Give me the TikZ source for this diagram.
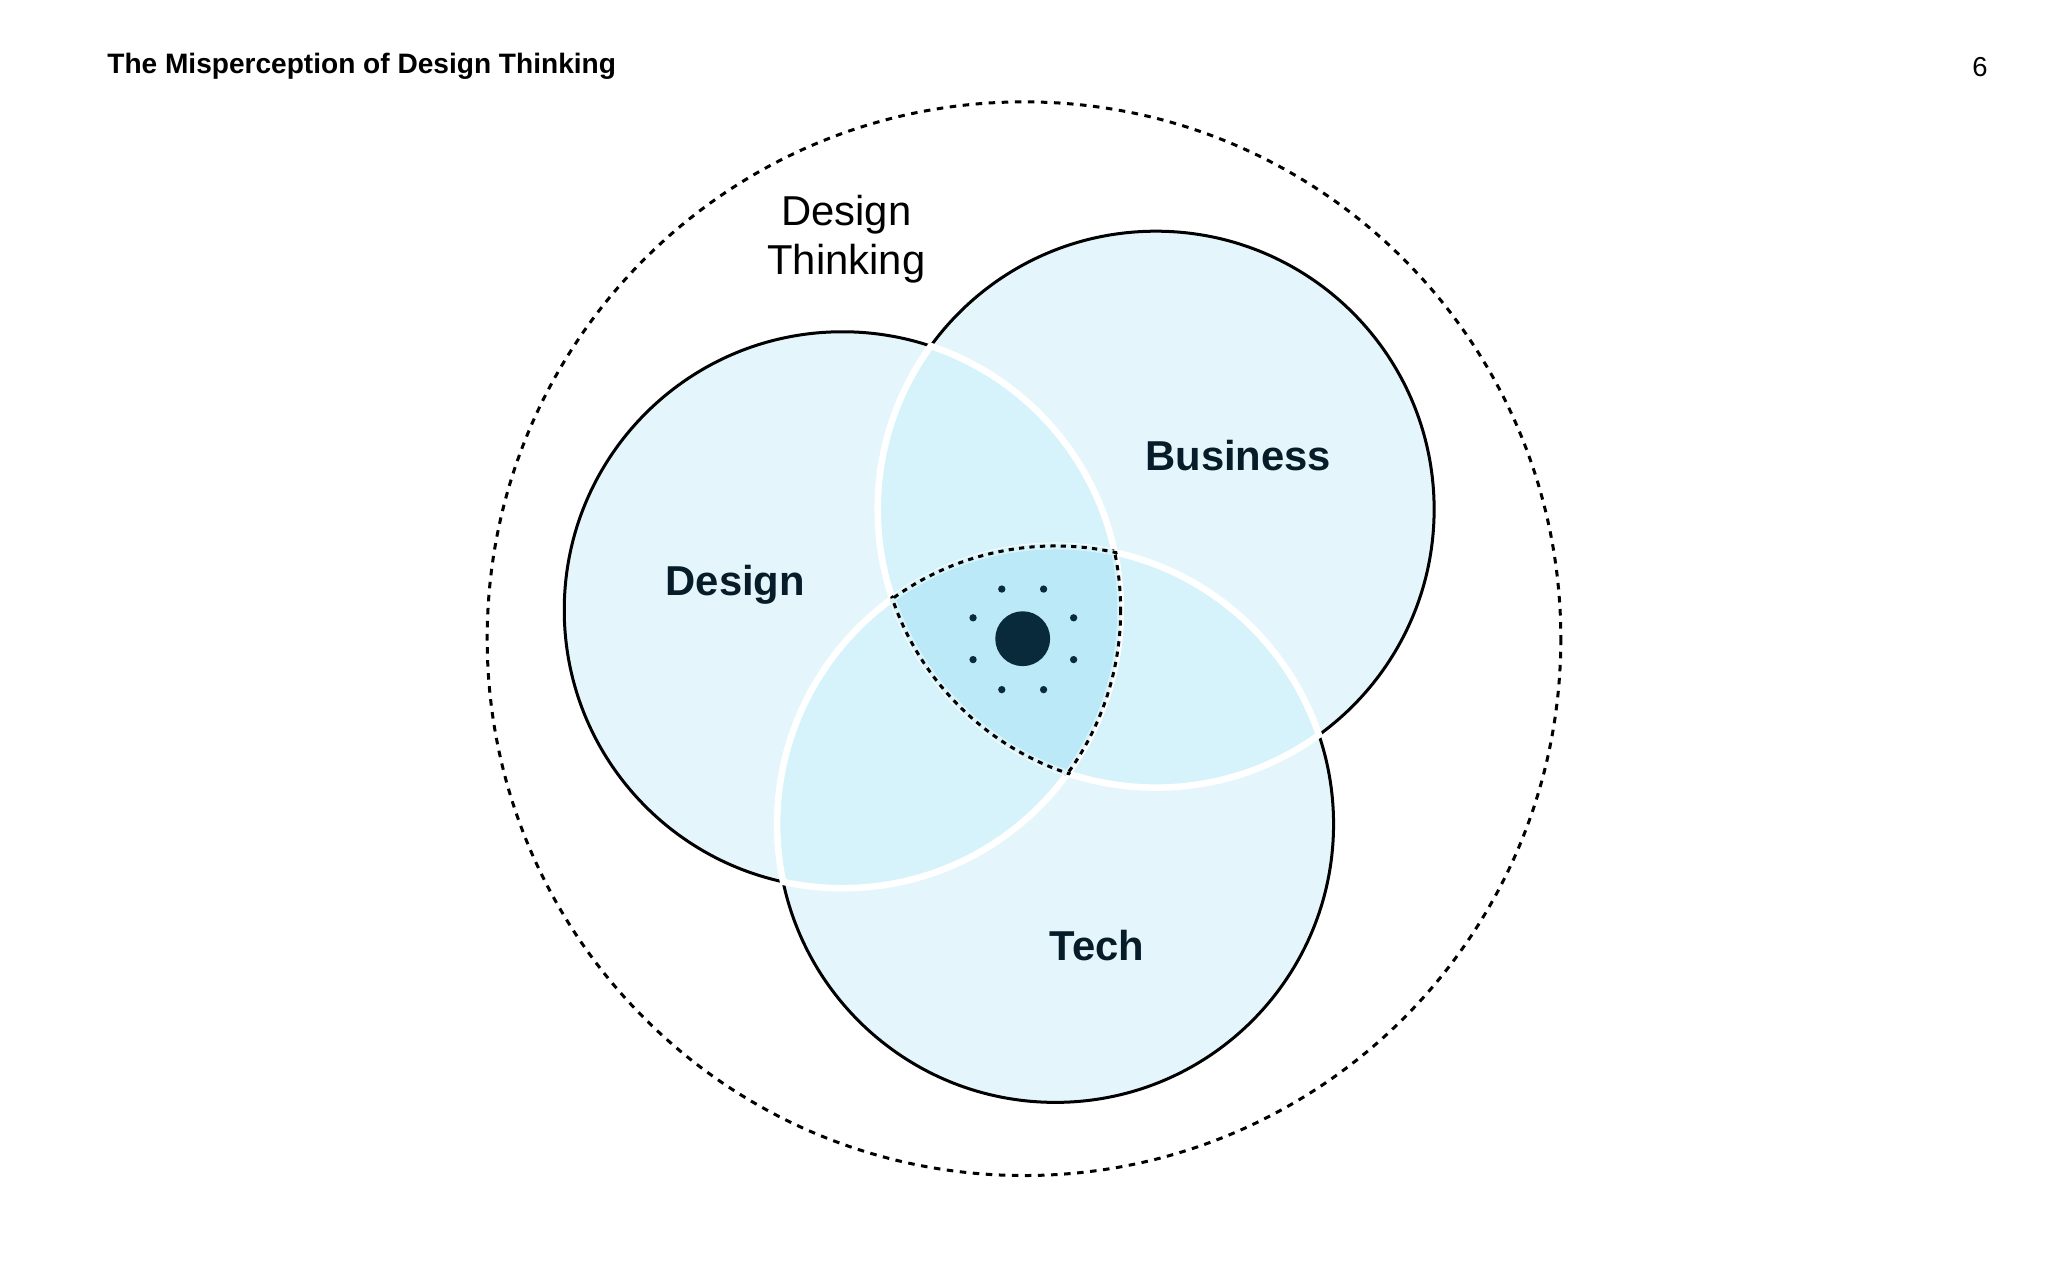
\documentclass[tikz,border=0pt]{standalone}
\usepackage{fontspec}
\setmainfont{Liberation Sans}
\definecolor{vennc}{RGB}{196,236,249}
\definecolor{triplec}{RGB}{160,225,245}
\definecolor{dotcol}{RGB}{8,42,58}
\begin{document}
\begin{tikzpicture}[x=1pt,y=-1pt,
  lbl/.style={font=\fontsize{32}{36}\selectfont\bfseries, text=dotcol!70!black},
  venn/.style={fill=vennc, fill opacity=0.45},
  dotc/.style={fill=dotcol}]
\useasboundingbox (0,0) rectangle (1568,980);
\node[anchor=west,inner sep=0pt,font=\fontsize{21.5}{24}\selectfont\bfseries] (title) at (82,51) {The Misperception of Design Thinking};
\node[font=\fontsize{21}{24}\selectfont] (pg) at (1516,51) {6};
\draw[line width=2.3pt, dash pattern=on 5pt off 5pt] (784,489) circle (411);
\coordinate (D) at (645,467);
\coordinate (B) at (885,390);
\coordinate (T) at (808,631);
\fill[venn] (D) circle (213);
\fill[venn] (B) circle (213);
\fill[venn] (T) circle (213);
\draw[line width=2.3pt] (D) circle (213) (B) circle (213) (T) circle (213);
\begin{scope}\clip (B) circle (215);\draw[white,line width=5pt] (D) circle (213) (T) circle (213);\end{scope}
\begin{scope}\clip (D) circle (215);\draw[white,line width=5pt] (B) circle (213) (T) circle (213);\end{scope}
\begin{scope}\clip (T) circle (215);\draw[white,line width=5pt] (D) circle (213) (B) circle (213);\end{scope}
\begin{scope}\clip (D) circle (215);\clip (B) circle (215);\clip (T) circle (215);
\fill[triplec, opacity=0.4] (D) circle (213);
\draw[line width=2.3pt, dash pattern=on 4pt off 4pt] (D) circle (213) (B) circle (213) (T) circle (213);
\end{scope}
\fill[dotc] (783,489) circle (21);
\foreach \p in {(767,451),(799,451),(745,473),(822,473),(745,505),(822,505),(767,528),(799,528)} \fill[dotc] \p circle (2.8);
\node[lbl] (ld) at (563,448) {Design};
\node[lbl] (lb) at (948,349) {Business};
\node[lbl] (lt) at (840,724) {Tech};
\node[align=center,font=\fontsize{32}{38}\selectfont] (dt) at (648,183) {Design\\Thinking};
\end{tikzpicture}
\end{document}
